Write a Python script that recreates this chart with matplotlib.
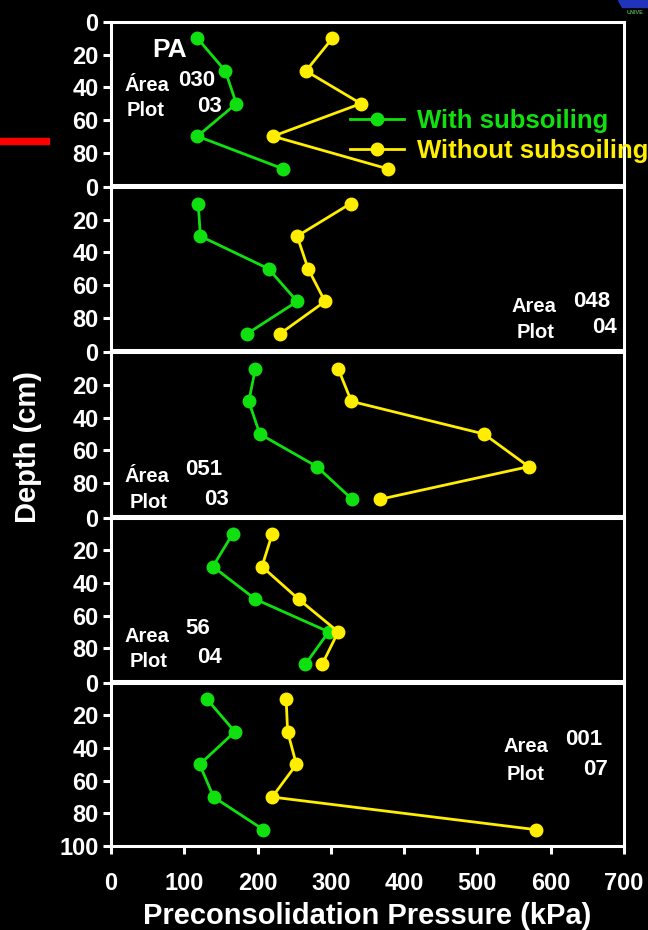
import matplotlib.pyplot as plt
from matplotlib.patches import Rectangle, Polygon

plt.rcParams['font.family'] = ['Liberation Sans', 'DejaVu Sans']
plt.rcParams['font.weight'] = 'bold'

depth = [10, 30, 50, 70, 90]

with_sub = [
    [118, 156, 171, 118, 235],
    [119, 122, 215, 254, 185],
    [197, 188, 203, 281, 329],
    [166, 139, 197, 297, 265],
    [131, 169, 121, 140, 208],
]
without_sub = [
    [302, 266, 341, 221, 378],
    [327, 254, 269, 292, 230],
    [310, 328, 509, 570, 367],
    [220, 206, 256, 310, 288],
    [239, 241, 253, 220, 580],
]

# (area, plot) label per panel
area_ids = ['030', '048', '051', '56', '001']
plot_ids = ['03', '04', '03', '04', '07']
area_words = ['Área', 'Area', 'Área', 'Area', 'Area']

x_ticks = [0, 100, 200, 300, 400, 500, 600, 700]

GREEN = '#10e010'
YELLOW = '#ffee00'

W, H = 648, 930
fig = plt.figure(figsize=(W / 100, H / 100), dpi=100, facecolor='black')

left, right = 111, 624
top, bottom = 22, 846
gap = 2
ph = (bottom - top - 4 * gap) / 5

# label placement in data coords: (area_x, area_y, id_x, id_y, plot_x, plot_y, pid_x, pid_y)
lab_pos = [
    (19, 39, 91, 36, 22, 54, 117, 52),
    (546, 73, 630, 70, 553, 89, 656, 86),
    (19, 76, 101, 72, 26, 92, 127, 90),
    (19, 73, 101, 68, 26, 88, 117, 86),
    (535, 39, 620, 35, 540, 56, 644, 53),
]

axes = []
for i in range(5):
    y0 = top + i * (ph + gap)
    ax = fig.add_axes([left / W, 1 - (y0 + ph) / H, (right - left) / W, ph / H])
    ax.set_facecolor('black')
    ax.plot(with_sub[i], depth, '-o', color=GREEN, lw=2.0, ms=9, label='With subsoiling')
    ax.plot(without_sub[i], depth, '-o', color=YELLOW, lw=2.0, ms=9, label='Without subsoiling')
    ax.set_xlim(0, 700)
    ax.set_ylim(100, 0)
    for s in ax.spines.values():
        s.set_color('white')
        s.set_linewidth(2.2)
    if i < 4:
        ax.set_yticks([0, 20, 40, 60, 80])
        ax.set_xticks([])
    else:
        ax.set_yticks([0, 20, 40, 60, 80, 100])
        ax.set_xticks(x_ticks)
    ax.tick_params(colors='white', labelsize=17, length=6, width=2.2, direction='out', pad=3)
    for t in ax.get_xticklabels() + ax.get_yticklabels():
        t.set_fontweight('bold')
    ax.tick_params(axis='x', pad=13)

    ax_, ay_, ix_, iy_, px_, py_, qx_, qy_ = lab_pos[i]
    ax.text(ax_, ay_, area_words[i], color='white', fontsize=14.5, fontweight='bold', va='center')
    ax.text(ix_, iy_, area_ids[i], color='white', fontsize=16, fontweight='bold', va='center')
    ax.text(px_, py_, 'Plot', color='white', fontsize=14.5, fontweight='bold', va='center')
    ax.text(qx_, qy_, plot_ids[i], color='white', fontsize=16, fontweight='bold', va='center')
    axes.append(ax)

axes[0].text(80, 17, 'PA', color='white', fontsize=19, fontweight='bold', ha='center', va='center')

leg = axes[0].legend(loc='upper left', bbox_to_anchor=(350 / W, 1 - 109 / H),
                     bbox_transform=fig.transFigure, frameon=False,
                     prop={'size': 18.5, 'weight': 'bold'}, labelcolor='linecolor',
                     handlelength=2.1, handletextpad=0.5, labelspacing=0.22,
                     borderpad=0, borderaxespad=0)

axes[-1].set_xlabel('Preconsolidation Pressure (kPa)', color='white',
                    fontsize=21, fontweight='bold', labelpad=5)
fig.text(28 / W, 1 - 447 / H, 'Depth (cm)', color='white', fontsize=21,
         fontweight='bold', rotation=90, ha='center', va='center')

# red marker bar at the left margin
fig.patches.append(Rectangle((0, 1 - 144 / H), 49 / W, 6 / H, color='#ff0000',
                             transform=fig.transFigure, figure=fig))
# small logo fragment top right
fig.patches.append(Polygon([(618 / W, 1), (648 / W, 1), (648 / W, 1 - 7 / H), (622 / W, 1 - 7 / H)],
                           closed=True, color='#2233bb', transform=fig.transFigure, figure=fig))
fig.text(627 / W, 1 - 13 / H, 'UNIVE', color='#55aa55', fontsize=4, va='center')

fig.savefig('out.png', dpi=100, facecolor='black')
